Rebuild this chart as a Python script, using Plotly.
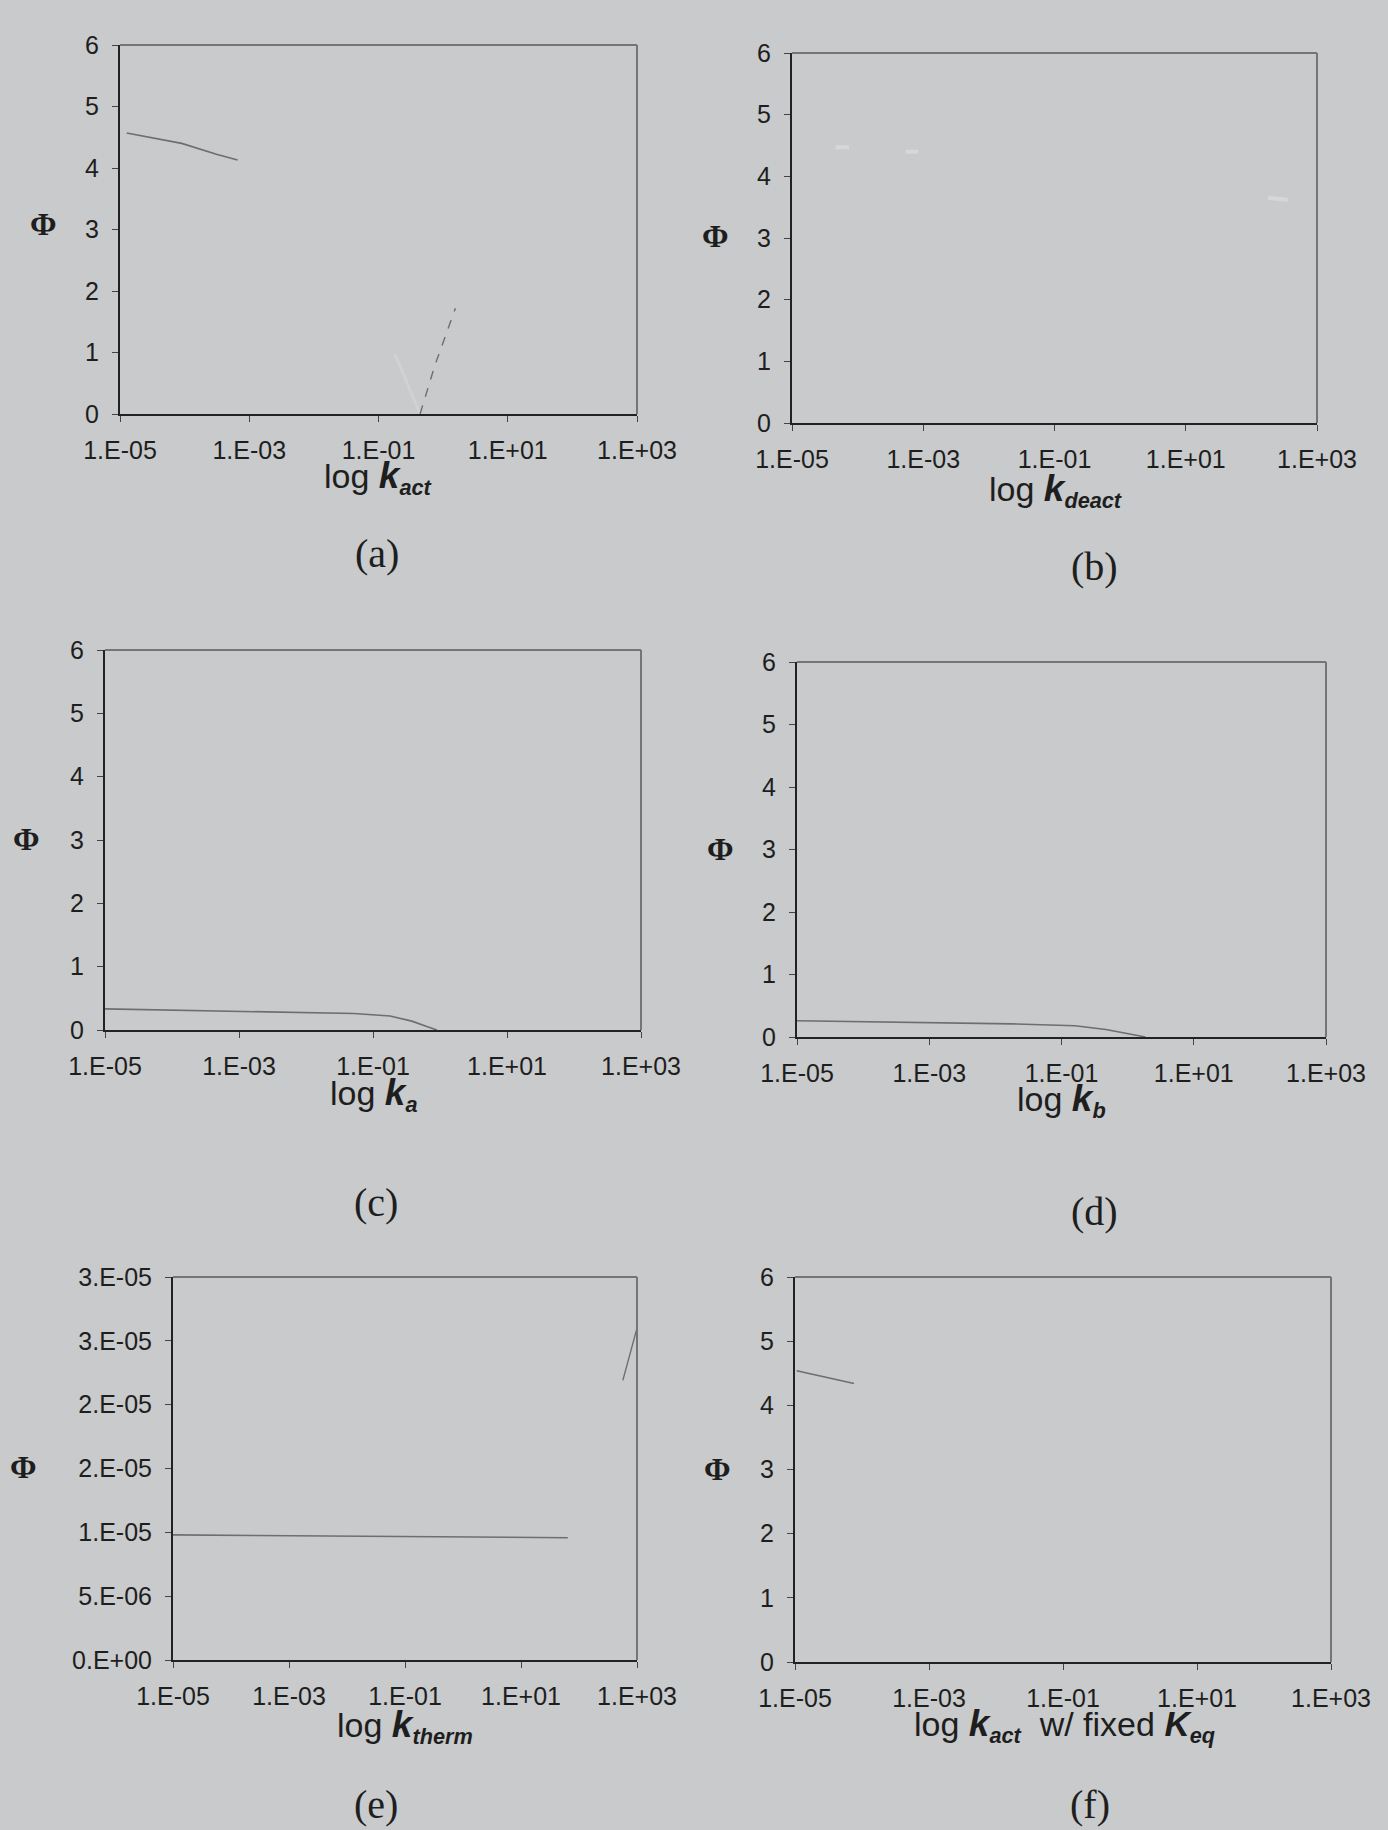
import plotly.graph_objects as go

W, H = 1388, 1830

# ---------------- data ----------------
x_tickvals = [1e-5, 1e-3, 1e-1, 1e1, 1e3]
x_ticktext = ["1.E-05", "1.E-03", "1.E-01", "1.E+01", "1.E+03"]
phi_tickvals = [0, 1, 2, 3, 4, 5, 6]
phi_ticktext = ["0", "1", "2", "3", "4", "5", "6"]
e_tickvals = [0, 5e-6, 1e-5, 1.5e-5, 2e-5, 2.5e-5, 3e-5]
e_ticktext = ["0.E+00", "5.E-06", "1.E-05", "2.E-05", "2.E-05", "3.E-05", "3.E-05"]

# (a) Phi vs k_act (visible pieces of the curve)
a_x1 = [1.27e-5, 9e-5, 3.2e-4, 6.6e-4]
a_y1 = [4.57, 4.40, 4.22, 4.13]
a_x2 = [0.18, 0.44]
a_y2 = [0.97, 0.0]
a_x3 = [0.44, 0.75, 1.55]
a_y3 = [0.0, 0.80, 1.72]

# (b) Phi vs k_deact (only faint smudges of the curve remain)
b_x = [4.6e-5, 7.4e-5, None, 5.4e-4, 8.4e-4, None, 1.8e2, 3.6e2]
b_y = [4.47, 4.47, None, 4.40, 4.40, None, 3.65, 3.62]

# (c) Phi vs k_a
c_x = [1e-5, 5.5e-4, 5.2e-2, 0.18, 0.38, 0.65, 0.9]
c_y = [0.334, 0.30, 0.26, 0.22, 0.14, 0.05, 0.0]

# (d) Phi vs k_b
d_x = [1e-5, 6.2e-4, 1.8e-2, 0.16, 0.47, 1.86]
d_y = [0.26, 0.23, 0.21, 0.18, 0.12, 0.0]

# (e) Phi vs k_therm
e_x1 = [1e-5, 1e-3, 1e-1, 10, 64]
e_y1 = [9.8e-6, 9.75e-6, 9.7e-6, 9.62e-6, 9.58e-6]
e_x2 = [5.7e2, 7.2e2, 1e3]
e_y2 = [2.19e-5, 2.36e-5, 2.6e-5]

# (f) Phi vs k_act with fixed K_eq
f_x = [1.06e-5, 7.6e-5]
f_y = [4.54, 4.34]

# ---------------- layout helpers ----------------
BG = "#c8cacb"
INK = "#1e1e1e"
LINE = "#6e6e6e"
SANS = "Arial, Liberation Sans, sans-serif"
SERIF = "Times New Roman, Liberation Serif, serif"

# panel boxes in pixels: left, right, top, bottom
boxes = [
    (120, 637, 45, 414),
    (792, 1317, 53, 423),
    (105, 641, 650, 1030),
    (797, 1326, 662, 1037),
    (173, 637, 1277, 1660),
    (795, 1331, 1277, 1662),
]

fig = go.Figure()

def add(i, xs, ys, color=LINE, width=1.6, dash="solid"):
    sfx = "" if i == 1 else str(i)
    fig.add_trace(go.Scatter(x=xs, y=ys, mode="lines", xaxis="x" + sfx, yaxis="y" + sfx,
                             line=dict(color=color, width=width, dash=dash),
                             showlegend=False, hoverinfo="skip", connectgaps=False))

add(1, a_x1, a_y1)
add(1, a_x2, a_y2, color="#d1d3d3", width=3)
add(1, a_x3, a_y3, dash="dash", width=1.4)
add(2, b_x, b_y, color="#d6d8d8", width=4)
add(3, c_x, c_y)
add(4, d_x, d_y)
add(5, e_x1, e_y1)
add(5, e_x2, e_y2, width=1.4)
add(6, f_x, f_y)

layout = dict(width=W, height=H,
              margin=dict(l=0, r=0, t=0, b=0, pad=0, autoexpand=False),
              paper_bgcolor=BG, plot_bgcolor=BG, showlegend=False)
shapes = []
for i, (l, r, t, b) in enumerate(boxes, start=1):
    sfx = "" if i == 1 else str(i)
    xd = [l / W, r / W]
    yd = [1 - b / H, 1 - t / H]
    layout["xaxis" + sfx] = dict(
        domain=xd, anchor="y" + sfx, type="log", range=[-5, 3], automargin=False,
        tickvals=x_tickvals, ticktext=x_ticktext, ticks="outside", ticklen=6,
        tickwidth=1, tickcolor="#444", showline=True, linecolor="#222", linewidth=2,
        showgrid=False, zeroline=False, ticklabelstandoff=7,
        tickfont=dict(family=SANS, size=25, color=INK))
    if i == 5:
        tv, tt, rng = e_tickvals, e_ticktext, [0, 3e-5]
    else:
        tv, tt, rng = phi_tickvals, phi_ticktext, [0, 6]
    layout["yaxis" + sfx] = dict(
        domain=yd, anchor="x" + sfx, range=rng, tickvals=tv, ticktext=tt,
        automargin=False, ticks="outside", ticklen=6, tickwidth=1, tickcolor="#444",
        showline=True, linecolor="#222", linewidth=2, showgrid=False,
        zeroline=False, ticklabelstandoff=8,
        tickfont=dict(family=SANS, size=25, color=INK))
    xr, yr = "x" + sfx + " domain", "y" + sfx + " domain"
    shapes.append(dict(type="line", xref=xr, yref=yr, x0=0, x1=1, y0=1, y1=1,
                       line=dict(color="#757575", width=2)))
    shapes.append(dict(type="line", xref=xr, yref=yr, x0=1, x1=1, y0=0, y1=1,
                       line=dict(color="#757575", width=2)))
layout["shapes"] = shapes

def kt(sub):
    return ('<span style="font-size:37px"><b><i>k</i></b></span>'
            '<span style="font-size:31px"><sub><b><i>' + sub + '</i></b></sub></span>')

titles = [
    ("log " + kt("act"), 378, 478),
    ("log " + kt("deact"), 1055, 491),
    ("log " + kt("a"), 373, 1094),
    ("log " + kt("b"), 1061, 1100),
    ("log " + kt("therm"), 405, 1726),
    ("log " + kt("act") + '  w/ fixed <span style="font-size:35px"><b><i>K</i></b></span>'
     '<span style="font-size:31px"><sub><b><i>eq</i></b></sub></span>', 1064, 1725),
]
labels = [("(a)", 377, 554), ("(b)", 1094, 566), ("(c)", 376, 1202),
          ("(d)", 1094, 1211), ("(e)", 376, 1804), ("(f)", 1090, 1804)]
phis = [(43, 224), (716, 236), (26, 839), (720, 849), (23, 1467), (717, 1469)]

ann = []
for txt, x, y in titles:
    ann.append(dict(text=txt, x=x / W, y=1 - y / H, xref="paper", yref="paper",
                    showarrow=False, xanchor="center", yanchor="middle",
                    font=dict(family=SANS, size=34, color=INK)))
for txt, x, y in labels:
    ann.append(dict(text=txt, x=x / W, y=1 - y / H, xref="paper", yref="paper",
                    showarrow=False, xanchor="center", yanchor="middle",
                    font=dict(family=SERIF, size=40, color=INK)))
for x, y in phis:
    ann.append(dict(text="<b>Φ</b>", x=x / W, y=1 - y / H, xref="paper", yref="paper",
                    showarrow=False, xanchor="center", yanchor="middle",
                    font=dict(family=SERIF, size=32, color=INK)))
layout["annotations"] = ann

fig.update_layout(**layout)
fig.write_html("out.html", config={"displayModeBar": False},
               post_script="document.body.style.margin='0px';document.body.style.background='%s';" % BG)
